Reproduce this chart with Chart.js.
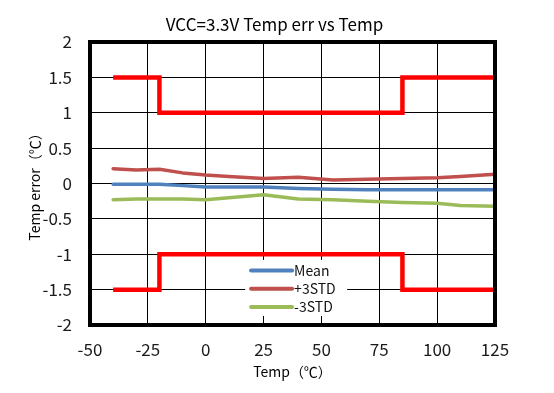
<!DOCTYPE html>
<html>
<head>
<meta charset="utf-8">
<script src="https://cdn.jsdelivr.net/npm/chart.js@4.4.1/dist/chart.umd.min.js"></script>
<style>
  html, body { margin: 0; padding: 0; background: #fff; }
</style>
</head>
<body>
<canvas id="chart" width="554" height="393"></canvas>
<script>
const FONT = '"Noto Sans CJK SC", "Noto Sans", sans-serif';

// temperature points of the measured curves
const temps     = [-40, -30, -20, -10, 0, 10, 25, 40, 55, 70, 85, 100, 110, 125];
const meanErr   = [-0.01, -0.01, -0.01, -0.03, -0.05, -0.05, -0.05, -0.07, -0.08, -0.09, -0.09, -0.09, -0.09, -0.09];
const plus3Std  = [0.21, 0.19, 0.20, 0.15, 0.12, 0.10, 0.07, 0.09, 0.05, 0.06, 0.07, 0.08, 0.10, 0.13];
const minus3Std = [-0.23, -0.22, -0.22, -0.22, -0.23, -0.20, -0.16, -0.22, -0.23, -0.25, -0.27, -0.28, -0.31, -0.32];

// spec limits (stepped)
const limitTemps = [-40, -20, 85, 125];
const upperLimit = [1.5, 1, 1.5, 1.5];
const lowerLimit = [-1.5, -1, -1.5, -1.5];

const legendItems = [
  { label: 'Mean',  color: '#4F81BD' },
  { label: '+3STD', color: '#C0504D' },
  { label: '-3STD', color: '#9BBB59' }
];

function toPoints(xs, ys) {
  return xs.map((x, i) => ({ x: x, y: ys[i] }));
}

// thick black frame round the plot area
const framePlugin = {
  id: 'frame',
  afterDraw(chart) {
    const { ctx, chartArea: a } = chart;
    ctx.save();
    ctx.strokeStyle = '#000';
    ctx.lineWidth = 4;
    ctx.strokeRect(a.left, a.top, a.right - a.left, a.bottom - a.top);
    ctx.restore();
  }
};

// legend sitting inside the plot, with a white box hiding the grid
const innerLegend = {
  id: 'innerLegend',
  afterDatasetsDraw(chart) {
    const { ctx, chartArea: a } = chart;
    const x0 = a.left + (a.right - a.left) * 0.383;
    const y0 = a.top + (a.bottom - a.top) * 0.77;
    ctx.save();
    ctx.fillStyle = '#fff';
    ctx.fillRect(x0, y0, 102, 56);
    ctx.font = '14px ' + FONT;
    ctx.textBaseline = 'middle';
    legendItems.forEach((item, i) => {
      const y = y0 + 10.5 + i * 18.3;
      ctx.strokeStyle = item.color;
      ctx.lineWidth = 4;
      ctx.lineCap = 'round';
      ctx.beginPath();
      ctx.moveTo(x0 + 6, y);
      ctx.lineTo(x0 + 47, y);
      ctx.stroke();
      ctx.fillStyle = '#111';
      ctx.fillText(item.label, x0 + 49, y);
    });
    ctx.restore();
  }
};

const lineDs = (label, ys, color) => ({
  label: label,
  data: toPoints(temps, ys),
  borderColor: color,
  borderWidth: 3.5,
  pointRadius: 0,
  showLine: true,
  tension: 0,
  borderCapStyle: 'round',
  borderJoinStyle: 'round'
});

const limitDs = (label, ys) => ({
  label: label,
  data: toPoints(limitTemps, ys),
  borderColor: '#FF0000',
  borderWidth: 4.5,
  pointRadius: 0,
  showLine: true,
  stepped: true,
  borderJoinStyle: 'miter'
});

new Chart(document.getElementById('chart'), {
  type: 'scatter',
  data: {
    datasets: [
      limitDs('Upper limit', upperLimit),
      limitDs('Lower limit', lowerLimit),
      lineDs('Mean', meanErr, '#4F81BD'),
      lineDs('+3STD', plus3Std, '#C0504D'),
      lineDs('-3STD', minus3Std, '#9BBB59')
    ]
  },
  options: {
    responsive: false,
    devicePixelRatio: 1,
    animation: false,
    layout: { padding: { left: 22, right: 27, top: 4, bottom: 13 } },
    plugins: {
      legend: { display: false },
      tooltip: { enabled: false },
      title: {
        display: true,
        text: 'VCC=3.3V Temp err vs Temp',
        color: '#000',
        font: { family: FONT, size: 17, weight: 'normal' },
        padding: { top: 10, bottom: 7.6 }
      }
    },
    scales: {
      x: {
        type: 'linear',
        min: -50,
        max: 125,
        afterFit: s => { s.height = 55; },
        ticks: { stepSize: 25, color: '#1a1a1a', font: { family: FONT, size: 17 }, padding: 14.5, maxRotation: 0 },
        grid: { color: '#000', lineWidth: 1, drawTicks: false },
        border: { display: false },
        title: { display: true, text: 'Temp（℃）', color: '#000', font: { family: FONT, size: 14 }, padding: { top: 3, bottom: 0 } }
      },
      y: {
        min: -2,
        max: 2,
        afterFit: s => { s.width = 68; },
        ticks: { stepSize: 0.5, color: '#1a1a1a', font: { family: FONT, size: 17 }, padding: 18, callback: v => String(v) },
        grid: { color: '#000', lineWidth: 1, drawTicks: false },
        border: { display: false },
        title: { display: true, text: 'Temp error（℃）', color: '#000', font: { family: FONT, size: 14 }, padding: { top: 4, bottom: 4 } }
      },
      // empty right-hand axis, only keeps room beside the plot
      yRight: {
        position: 'right',
        min: -2,
        max: 2,
        afterFit: s => { s.width = 32; },
        ticks: { display: false },
        grid: { display: false },
        border: { display: false }
      }
    }
  },
  plugins: [innerLegend, framePlugin]
});
</script>
</body>
</html>
